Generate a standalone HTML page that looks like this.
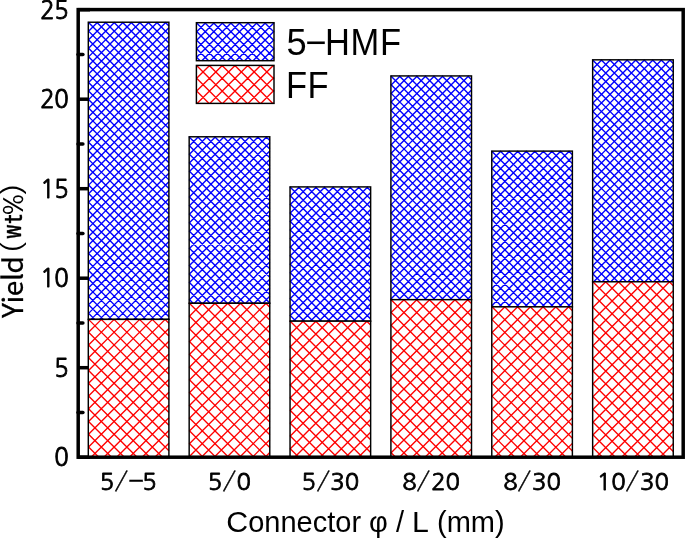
<!DOCTYPE html>
<html><head><meta charset="utf-8"><title>Yield vs Connector</title>
<style>
html,body{margin:0;padding:0;background:#fff;}
body{width:685px;height:538px;overflow:hidden;position:relative;}
svg{display:block;}
.nd{font-family:"NanumGothic","Liberation Sans",sans-serif;font-size:23.9px;letter-spacing:-0.3px;fill:#000;stroke:#000;stroke-width:0.8px;}
.xl{position:absolute;top:464.2px;width:120px;height:34px;line-height:34px;text-align:center;white-space:nowrap;font-family:"NanumGothic","Liberation Sans",sans-serif;font-size:23.9px;letter-spacing:-0.1px;color:#000;-webkit-text-stroke:0.8px #000;}
.xl .s{display:inline-block;width:14.5px;text-align:center;letter-spacing:0;font-family:"IPAGothic","Liberation Sans",sans-serif;font-size:23.8px;transform:scaleX(1.19);position:relative;top:0.3px;left:-0.2px;-webkit-text-stroke:0.3px #000;}
.xl .m{font-size:24.7px;transform:scaleX(1.33);top:-0.1px;left:0;margin-right:-1px;margin-left:0.2px}
.ar{font-family:"Liberation Sans",sans-serif;fill:#000;}
.go{font-family:"IPAGothic","Liberation Sans",sans-serif;fill:#000;stroke:none;}
.gb{stroke:#000;stroke-width:0.35px;}
.no{font-family:"Noto Sans CJK JP","Liberation Sans",sans-serif;fill:#000;stroke:#000;stroke-width:0.3px;letter-spacing:-0.4px;}
.no tspan{letter-spacing:0;}
.wq{font-family:"WenQuanYi Zen Hei","Liberation Sans",sans-serif;fill:#000;stroke:none;}
.lg{position:absolute;left:286.5px;height:44px;line-height:44px;white-space:nowrap;font-family:"Liberation Sans",sans-serif;font-size:36.3px;color:#000;letter-spacing:-1.5px;}
.lg .sq{display:inline-block;transform:scaleX(0.95);transform-origin:0 50%;letter-spacing:0.75px;}
</style></head><body>
<svg width="685" height="538" viewBox="0 0 685 538">
<rect width="685" height="538" fill="#fff"/>

<g stroke="#000" stroke-width="3.5" fill="none">
<line x1="78" y1="457.20" x2="90" y2="457.20"/>
<line x1="78" y1="367.70" x2="90" y2="367.70"/>
<line x1="78" y1="278.20" x2="90" y2="278.20"/>
<line x1="78" y1="188.70" x2="90" y2="188.70"/>
<line x1="78" y1="99.20" x2="90" y2="99.20"/>
<line x1="78" y1="9.70" x2="90" y2="9.70"/>
<line x1="78" y1="412.45" x2="82.9" y2="412.45" stroke-linecap="round"/>
<line x1="78" y1="322.95" x2="82.9" y2="322.95" stroke-linecap="round"/>
<line x1="78" y1="233.45" x2="82.9" y2="233.45" stroke-linecap="round"/>
<line x1="78" y1="143.95" x2="82.9" y2="143.95" stroke-linecap="round"/>
<line x1="78" y1="54.45" x2="82.9" y2="54.45" stroke-linecap="round"/>
</g>
<g transform="translate(88.30,22.23)"><rect width="80.60" height="297.14" fill="#fff"/><path d="M0.00,290.80L6.34,297.14M0.00,282.25L14.89,297.14M0.00,273.70L23.44,297.14M0.00,265.15L31.99,297.14M0.00,256.60L40.54,297.14M0.00,248.05L49.09,297.14M0.00,239.50L57.64,297.14M0.00,230.95L66.19,297.14M0.00,222.40L74.74,297.14M0.00,213.85L80.60,294.45M0.00,205.30L80.60,285.90M0.00,196.75L80.60,277.35M0.00,188.20L80.60,268.80M0.00,179.65L80.60,260.25M0.00,171.10L80.60,251.70M0.00,162.55L80.60,243.15M0.00,154.00L80.60,234.60M0.00,145.45L80.60,226.05M0.00,136.90L80.60,217.50M0.00,128.35L80.60,208.95M0.00,119.80L80.60,200.40M0.00,111.25L80.60,191.85M0.00,102.70L80.60,183.30M0.00,94.15L80.60,174.75M0.00,85.60L80.60,166.20M0.00,77.05L80.60,157.65M0.00,68.50L80.60,149.10M0.00,59.95L80.60,140.55M0.00,51.40L80.60,132.00M0.00,42.85L80.60,123.45M0.00,34.30L80.60,114.90M0.00,25.75L80.60,106.35M0.00,17.20L80.60,97.80M0.00,8.65L80.60,89.25M0.00,0.10L80.60,80.70M8.45,0.00L80.60,72.15M17.00,0.00L80.60,63.60M25.55,0.00L80.60,55.05M34.10,0.00L80.60,46.50M42.65,0.00L80.60,37.95M51.20,0.00L80.60,29.40M59.75,0.00L80.60,20.85M68.30,0.00L80.60,12.30M76.85,0.00L80.60,3.75M0.00,0.70L0.70,0.00M0.00,9.25L9.25,0.00M0.00,17.80L17.80,0.00M0.00,26.35L26.35,0.00M0.00,34.90L34.90,0.00M0.00,43.45L43.45,0.00M0.00,52.00L52.00,0.00M0.00,60.55L60.55,0.00M0.00,69.10L69.10,0.00M0.00,77.65L77.65,0.00M0.00,86.20L80.60,5.60M0.00,94.75L80.60,14.15M0.00,103.30L80.60,22.70M0.00,111.85L80.60,31.25M0.00,120.40L80.60,39.80M0.00,128.95L80.60,48.35M0.00,137.50L80.60,56.90M0.00,146.05L80.60,65.45M0.00,154.60L80.60,74.00M0.00,163.15L80.60,82.55M0.00,171.70L80.60,91.10M0.00,180.25L80.60,99.65M0.00,188.80L80.60,108.20M0.00,197.35L80.60,116.75M0.00,205.90L80.60,125.30M0.00,214.45L80.60,133.85M0.00,223.00L80.60,142.40M0.00,231.55L80.60,150.95M0.00,240.10L80.60,159.50M0.00,248.65L80.60,168.05M0.00,257.20L80.60,176.60M0.00,265.75L80.60,185.15M0.00,274.30L80.60,193.70M0.00,282.85L80.60,202.25M0.00,291.40L80.60,210.80M2.81,297.14L80.60,219.35M11.36,297.14L80.60,227.90M19.91,297.14L80.60,236.45M28.46,297.14L80.60,245.00M37.01,297.14L80.60,253.55M45.56,297.14L80.60,262.10M54.11,297.14L80.60,270.65M62.66,297.14L80.60,279.20M71.21,297.14L80.60,287.75M79.76,297.14L80.60,296.30" stroke="#0000ff" stroke-width="1.4" fill="none"/><rect width="80.60" height="297.14" fill="none" stroke="#000" stroke-width="1.45"/></g>
<g transform="translate(88.30,319.37)"><rect width="80.60" height="137.83" fill="#fff"/><path d="M0.00,127.30L10.53,137.83M0.00,114.55L23.28,137.83M0.00,101.80L36.03,137.83M0.00,89.05L48.78,137.83M0.00,76.30L61.53,137.83M0.00,63.55L74.28,137.83M0.00,50.80L80.60,131.40M0.00,38.05L80.60,118.65M0.00,25.30L80.60,105.90M0.00,12.55L80.60,93.15M0.20,0.00L80.60,80.40M12.95,0.00L80.60,67.65M25.70,0.00L80.60,54.90M38.45,0.00L80.60,42.15M51.20,0.00L80.60,29.40M63.95,0.00L80.60,16.65M76.70,0.00L80.60,3.90M0.00,0.40L0.40,0.00M0.00,13.15L13.15,0.00M0.00,25.90L25.90,0.00M0.00,38.65L38.65,0.00M0.00,51.40L51.40,0.00M0.00,64.15L64.15,0.00M0.00,76.90L76.90,0.00M0.00,89.65L80.60,9.05M0.00,102.40L80.60,21.80M0.00,115.15L80.60,34.55M0.00,127.90L80.60,47.30M2.82,137.83L80.60,60.05M15.57,137.83L80.60,72.80M28.32,137.83L80.60,85.55M41.07,137.83L80.60,98.30M53.82,137.83L80.60,111.05M66.57,137.83L80.60,123.80M79.32,137.83L80.60,136.55" stroke="#ff0000" stroke-width="1.35" fill="none"/><rect width="80.60" height="137.83" fill="none" stroke="#000" stroke-width="1.45"/></g>
<g transform="translate(189.17,136.79)"><rect width="80.60" height="166.47" fill="#fff"/><path d="M0.00,162.55L3.92,166.47M0.00,154.00L12.47,166.47M0.00,145.45L21.02,166.47M0.00,136.90L29.57,166.47M0.00,128.35L38.12,166.47M0.00,119.80L46.67,166.47M0.00,111.25L55.22,166.47M0.00,102.70L63.77,166.47M0.00,94.15L72.32,166.47M0.00,85.60L80.60,166.20M0.00,77.05L80.60,157.65M0.00,68.50L80.60,149.10M0.00,59.95L80.60,140.55M0.00,51.40L80.60,132.00M0.00,42.85L80.60,123.45M0.00,34.30L80.60,114.90M0.00,25.75L80.60,106.35M0.00,17.20L80.60,97.80M0.00,8.65L80.60,89.25M0.00,0.10L80.60,80.70M8.45,0.00L80.60,72.15M17.00,0.00L80.60,63.60M25.55,0.00L80.60,55.05M34.10,0.00L80.60,46.50M42.65,0.00L80.60,37.95M51.20,0.00L80.60,29.40M59.75,0.00L80.60,20.85M68.30,0.00L80.60,12.30M76.85,0.00L80.60,3.75M0.00,0.70L0.70,0.00M0.00,9.25L9.25,0.00M0.00,17.80L17.80,0.00M0.00,26.35L26.35,0.00M0.00,34.90L34.90,0.00M0.00,43.45L43.45,0.00M0.00,52.00L52.00,0.00M0.00,60.55L60.55,0.00M0.00,69.10L69.10,0.00M0.00,77.65L77.65,0.00M0.00,86.20L80.60,5.60M0.00,94.75L80.60,14.15M0.00,103.30L80.60,22.70M0.00,111.85L80.60,31.25M0.00,120.40L80.60,39.80M0.00,128.95L80.60,48.35M0.00,137.50L80.60,56.90M0.00,146.05L80.60,65.45M0.00,154.60L80.60,74.00M0.00,163.15L80.60,82.55M5.23,166.47L80.60,91.10M13.78,166.47L80.60,99.65M22.33,166.47L80.60,108.20M30.88,166.47L80.60,116.75M39.43,166.47L80.60,125.30M47.98,166.47L80.60,133.85M56.53,166.47L80.60,142.40M65.08,166.47L80.60,150.95M73.63,166.47L80.60,159.50" stroke="#0000ff" stroke-width="1.4" fill="none"/><rect width="80.60" height="166.47" fill="none" stroke="#000" stroke-width="1.45"/></g>
<g transform="translate(189.17,303.26)"><rect width="80.60" height="153.94" fill="#fff"/><path d="M0.00,152.80L1.14,153.94M0.00,140.05L13.89,153.94M0.00,127.30L26.64,153.94M0.00,114.55L39.39,153.94M0.00,101.80L52.14,153.94M0.00,89.05L64.89,153.94M0.00,76.30L77.64,153.94M0.00,63.55L80.60,144.15M0.00,50.80L80.60,131.40M0.00,38.05L80.60,118.65M0.00,25.30L80.60,105.90M0.00,12.55L80.60,93.15M0.20,0.00L80.60,80.40M12.95,0.00L80.60,67.65M25.70,0.00L80.60,54.90M38.45,0.00L80.60,42.15M51.20,0.00L80.60,29.40M63.95,0.00L80.60,16.65M76.70,0.00L80.60,3.90M0.00,0.40L0.40,0.00M0.00,13.15L13.15,0.00M0.00,25.90L25.90,0.00M0.00,38.65L38.65,0.00M0.00,51.40L51.40,0.00M0.00,64.15L64.15,0.00M0.00,76.90L76.90,0.00M0.00,89.65L80.60,9.05M0.00,102.40L80.60,21.80M0.00,115.15L80.60,34.55M0.00,127.90L80.60,47.30M0.00,140.65L80.60,60.05M0.00,153.40L80.60,72.80M12.21,153.94L80.60,85.55M24.96,153.94L80.60,98.30M37.71,153.94L80.60,111.05M50.46,153.94L80.60,123.80M63.21,153.94L80.60,136.55M75.96,153.94L80.60,149.30" stroke="#ff0000" stroke-width="1.35" fill="none"/><rect width="80.60" height="153.94" fill="none" stroke="#000" stroke-width="1.45"/></g>
<g transform="translate(290.04,186.91)"><rect width="80.60" height="134.25" fill="#fff"/><path d="M0.00,128.35L5.90,134.25M0.00,119.80L14.45,134.25M0.00,111.25L23.00,134.25M0.00,102.70L31.55,134.25M0.00,94.15L40.10,134.25M0.00,85.60L48.65,134.25M0.00,77.05L57.20,134.25M0.00,68.50L65.75,134.25M0.00,59.95L74.30,134.25M0.00,51.40L80.60,132.00M0.00,42.85L80.60,123.45M0.00,34.30L80.60,114.90M0.00,25.75L80.60,106.35M0.00,17.20L80.60,97.80M0.00,8.65L80.60,89.25M0.00,0.10L80.60,80.70M8.45,0.00L80.60,72.15M17.00,0.00L80.60,63.60M25.55,0.00L80.60,55.05M34.10,0.00L80.60,46.50M42.65,0.00L80.60,37.95M51.20,0.00L80.60,29.40M59.75,0.00L80.60,20.85M68.30,0.00L80.60,12.30M76.85,0.00L80.60,3.75M0.00,0.70L0.70,0.00M0.00,9.25L9.25,0.00M0.00,17.80L17.80,0.00M0.00,26.35L26.35,0.00M0.00,34.90L34.90,0.00M0.00,43.45L43.45,0.00M0.00,52.00L52.00,0.00M0.00,60.55L60.55,0.00M0.00,69.10L69.10,0.00M0.00,77.65L77.65,0.00M0.00,86.20L80.60,5.60M0.00,94.75L80.60,14.15M0.00,103.30L80.60,22.70M0.00,111.85L80.60,31.25M0.00,120.40L80.60,39.80M0.00,128.95L80.60,48.35M3.25,134.25L80.60,56.90M11.80,134.25L80.60,65.45M20.35,134.25L80.60,74.00M28.90,134.25L80.60,82.55M37.45,134.25L80.60,91.10M46.00,134.25L80.60,99.65M54.55,134.25L80.60,108.20M63.10,134.25L80.60,116.75M71.65,134.25L80.60,125.30M80.20,134.25L80.60,133.85" stroke="#0000ff" stroke-width="1.4" fill="none"/><rect width="80.60" height="134.25" fill="none" stroke="#000" stroke-width="1.45"/></g>
<g transform="translate(290.04,321.16)"><rect width="80.60" height="136.04" fill="#fff"/><path d="M0.00,127.30L8.74,136.04M0.00,114.55L21.49,136.04M0.00,101.80L34.24,136.04M0.00,89.05L46.99,136.04M0.00,76.30L59.74,136.04M0.00,63.55L72.49,136.04M0.00,50.80L80.60,131.40M0.00,38.05L80.60,118.65M0.00,25.30L80.60,105.90M0.00,12.55L80.60,93.15M0.20,0.00L80.60,80.40M12.95,0.00L80.60,67.65M25.70,0.00L80.60,54.90M38.45,0.00L80.60,42.15M51.20,0.00L80.60,29.40M63.95,0.00L80.60,16.65M76.70,0.00L80.60,3.90M0.00,0.40L0.40,0.00M0.00,13.15L13.15,0.00M0.00,25.90L25.90,0.00M0.00,38.65L38.65,0.00M0.00,51.40L51.40,0.00M0.00,64.15L64.15,0.00M0.00,76.90L76.90,0.00M0.00,89.65L80.60,9.05M0.00,102.40L80.60,21.80M0.00,115.15L80.60,34.55M0.00,127.90L80.60,47.30M4.61,136.04L80.60,60.05M17.36,136.04L80.60,72.80M30.11,136.04L80.60,85.55M42.86,136.04L80.60,98.30M55.61,136.04L80.60,111.05M68.36,136.04L80.60,123.80" stroke="#ff0000" stroke-width="1.35" fill="none"/><rect width="80.60" height="136.04" fill="none" stroke="#000" stroke-width="1.45"/></g>
<g transform="translate(390.91,75.93)"><rect width="80.60" height="223.75" fill="#fff"/><path d="M0.00,222.40L1.35,223.75M0.00,213.85L9.90,223.75M0.00,205.30L18.45,223.75M0.00,196.75L27.00,223.75M0.00,188.20L35.55,223.75M0.00,179.65L44.10,223.75M0.00,171.10L52.65,223.75M0.00,162.55L61.20,223.75M0.00,154.00L69.75,223.75M0.00,145.45L78.30,223.75M0.00,136.90L80.60,217.50M0.00,128.35L80.60,208.95M0.00,119.80L80.60,200.40M0.00,111.25L80.60,191.85M0.00,102.70L80.60,183.30M0.00,94.15L80.60,174.75M0.00,85.60L80.60,166.20M0.00,77.05L80.60,157.65M0.00,68.50L80.60,149.10M0.00,59.95L80.60,140.55M0.00,51.40L80.60,132.00M0.00,42.85L80.60,123.45M0.00,34.30L80.60,114.90M0.00,25.75L80.60,106.35M0.00,17.20L80.60,97.80M0.00,8.65L80.60,89.25M0.00,0.10L80.60,80.70M8.45,0.00L80.60,72.15M17.00,0.00L80.60,63.60M25.55,0.00L80.60,55.05M34.10,0.00L80.60,46.50M42.65,0.00L80.60,37.95M51.20,0.00L80.60,29.40M59.75,0.00L80.60,20.85M68.30,0.00L80.60,12.30M76.85,0.00L80.60,3.75M0.00,0.70L0.70,0.00M0.00,9.25L9.25,0.00M0.00,17.80L17.80,0.00M0.00,26.35L26.35,0.00M0.00,34.90L34.90,0.00M0.00,43.45L43.45,0.00M0.00,52.00L52.00,0.00M0.00,60.55L60.55,0.00M0.00,69.10L69.10,0.00M0.00,77.65L77.65,0.00M0.00,86.20L80.60,5.60M0.00,94.75L80.60,14.15M0.00,103.30L80.60,22.70M0.00,111.85L80.60,31.25M0.00,120.40L80.60,39.80M0.00,128.95L80.60,48.35M0.00,137.50L80.60,56.90M0.00,146.05L80.60,65.45M0.00,154.60L80.60,74.00M0.00,163.15L80.60,82.55M0.00,171.70L80.60,91.10M0.00,180.25L80.60,99.65M0.00,188.80L80.60,108.20M0.00,197.35L80.60,116.75M0.00,205.90L80.60,125.30M0.00,214.45L80.60,133.85M0.00,223.00L80.60,142.40M7.80,223.75L80.60,150.95M16.35,223.75L80.60,159.50M24.90,223.75L80.60,168.05M33.45,223.75L80.60,176.60M42.00,223.75L80.60,185.15M50.55,223.75L80.60,193.70M59.10,223.75L80.60,202.25M67.65,223.75L80.60,210.80M76.20,223.75L80.60,219.35" stroke="#0000ff" stroke-width="1.4" fill="none"/><rect width="80.60" height="223.75" fill="none" stroke="#000" stroke-width="1.45"/></g>
<g transform="translate(390.91,299.68)"><rect width="80.60" height="157.52" fill="#fff"/><path d="M0.00,152.80L4.72,157.52M0.00,140.05L17.47,157.52M0.00,127.30L30.22,157.52M0.00,114.55L42.97,157.52M0.00,101.80L55.72,157.52M0.00,89.05L68.47,157.52M0.00,76.30L80.60,156.90M0.00,63.55L80.60,144.15M0.00,50.80L80.60,131.40M0.00,38.05L80.60,118.65M0.00,25.30L80.60,105.90M0.00,12.55L80.60,93.15M0.20,0.00L80.60,80.40M12.95,0.00L80.60,67.65M25.70,0.00L80.60,54.90M38.45,0.00L80.60,42.15M51.20,0.00L80.60,29.40M63.95,0.00L80.60,16.65M76.70,0.00L80.60,3.90M0.00,0.40L0.40,0.00M0.00,13.15L13.15,0.00M0.00,25.90L25.90,0.00M0.00,38.65L38.65,0.00M0.00,51.40L51.40,0.00M0.00,64.15L64.15,0.00M0.00,76.90L76.90,0.00M0.00,89.65L80.60,9.05M0.00,102.40L80.60,21.80M0.00,115.15L80.60,34.55M0.00,127.90L80.60,47.30M0.00,140.65L80.60,60.05M0.00,153.40L80.60,72.80M8.63,157.52L80.60,85.55M21.38,157.52L80.60,98.30M34.13,157.52L80.60,111.05M46.88,157.52L80.60,123.80M59.63,157.52L80.60,136.55M72.38,157.52L80.60,149.30" stroke="#ff0000" stroke-width="1.35" fill="none"/><rect width="80.60" height="157.52" fill="none" stroke="#000" stroke-width="1.45"/></g>
<g transform="translate(491.78,151.11)"><rect width="80.60" height="155.73" fill="#fff"/><path d="M0.00,154.00L1.73,155.73M0.00,145.45L10.28,155.73M0.00,136.90L18.83,155.73M0.00,128.35L27.38,155.73M0.00,119.80L35.93,155.73M0.00,111.25L44.48,155.73M0.00,102.70L53.03,155.73M0.00,94.15L61.58,155.73M0.00,85.60L70.13,155.73M0.00,77.05L78.68,155.73M0.00,68.50L80.60,149.10M0.00,59.95L80.60,140.55M0.00,51.40L80.60,132.00M0.00,42.85L80.60,123.45M0.00,34.30L80.60,114.90M0.00,25.75L80.60,106.35M0.00,17.20L80.60,97.80M0.00,8.65L80.60,89.25M0.00,0.10L80.60,80.70M8.45,0.00L80.60,72.15M17.00,0.00L80.60,63.60M25.55,0.00L80.60,55.05M34.10,0.00L80.60,46.50M42.65,0.00L80.60,37.95M51.20,0.00L80.60,29.40M59.75,0.00L80.60,20.85M68.30,0.00L80.60,12.30M76.85,0.00L80.60,3.75M0.00,0.70L0.70,0.00M0.00,9.25L9.25,0.00M0.00,17.80L17.80,0.00M0.00,26.35L26.35,0.00M0.00,34.90L34.90,0.00M0.00,43.45L43.45,0.00M0.00,52.00L52.00,0.00M0.00,60.55L60.55,0.00M0.00,69.10L69.10,0.00M0.00,77.65L77.65,0.00M0.00,86.20L80.60,5.60M0.00,94.75L80.60,14.15M0.00,103.30L80.60,22.70M0.00,111.85L80.60,31.25M0.00,120.40L80.60,39.80M0.00,128.95L80.60,48.35M0.00,137.50L80.60,56.90M0.00,146.05L80.60,65.45M0.00,154.60L80.60,74.00M7.42,155.73L80.60,82.55M15.97,155.73L80.60,91.10M24.52,155.73L80.60,99.65M33.07,155.73L80.60,108.20M41.62,155.73L80.60,116.75M50.17,155.73L80.60,125.30M58.72,155.73L80.60,133.85M67.27,155.73L80.60,142.40M75.82,155.73L80.60,150.95" stroke="#0000ff" stroke-width="1.4" fill="none"/><rect width="80.60" height="155.73" fill="none" stroke="#000" stroke-width="1.45"/></g>
<g transform="translate(491.78,306.84)"><rect width="80.60" height="150.36" fill="#fff"/><path d="M0.00,140.05L10.31,150.36M0.00,127.30L23.06,150.36M0.00,114.55L35.81,150.36M0.00,101.80L48.56,150.36M0.00,89.05L61.31,150.36M0.00,76.30L74.06,150.36M0.00,63.55L80.60,144.15M0.00,50.80L80.60,131.40M0.00,38.05L80.60,118.65M0.00,25.30L80.60,105.90M0.00,12.55L80.60,93.15M0.20,0.00L80.60,80.40M12.95,0.00L80.60,67.65M25.70,0.00L80.60,54.90M38.45,0.00L80.60,42.15M51.20,0.00L80.60,29.40M63.95,0.00L80.60,16.65M76.70,0.00L80.60,3.90M0.00,0.40L0.40,0.00M0.00,13.15L13.15,0.00M0.00,25.90L25.90,0.00M0.00,38.65L38.65,0.00M0.00,51.40L51.40,0.00M0.00,64.15L64.15,0.00M0.00,76.90L76.90,0.00M0.00,89.65L80.60,9.05M0.00,102.40L80.60,21.80M0.00,115.15L80.60,34.55M0.00,127.90L80.60,47.30M0.00,140.65L80.60,60.05M3.04,150.36L80.60,72.80M15.79,150.36L80.60,85.55M28.54,150.36L80.60,98.30M41.29,150.36L80.60,111.05M54.04,150.36L80.60,123.80M66.79,150.36L80.60,136.55M79.54,150.36L80.60,149.30" stroke="#ff0000" stroke-width="1.35" fill="none"/><rect width="80.60" height="150.36" fill="none" stroke="#000" stroke-width="1.45"/></g>
<g transform="translate(592.65,59.82)"><rect width="80.60" height="221.96" fill="#fff"/><path d="M0.00,213.85L8.11,221.96M0.00,205.30L16.66,221.96M0.00,196.75L25.21,221.96M0.00,188.20L33.76,221.96M0.00,179.65L42.31,221.96M0.00,171.10L50.86,221.96M0.00,162.55L59.41,221.96M0.00,154.00L67.96,221.96M0.00,145.45L76.51,221.96M0.00,136.90L80.60,217.50M0.00,128.35L80.60,208.95M0.00,119.80L80.60,200.40M0.00,111.25L80.60,191.85M0.00,102.70L80.60,183.30M0.00,94.15L80.60,174.75M0.00,85.60L80.60,166.20M0.00,77.05L80.60,157.65M0.00,68.50L80.60,149.10M0.00,59.95L80.60,140.55M0.00,51.40L80.60,132.00M0.00,42.85L80.60,123.45M0.00,34.30L80.60,114.90M0.00,25.75L80.60,106.35M0.00,17.20L80.60,97.80M0.00,8.65L80.60,89.25M0.00,0.10L80.60,80.70M8.45,0.00L80.60,72.15M17.00,0.00L80.60,63.60M25.55,0.00L80.60,55.05M34.10,0.00L80.60,46.50M42.65,0.00L80.60,37.95M51.20,0.00L80.60,29.40M59.75,0.00L80.60,20.85M68.30,0.00L80.60,12.30M76.85,0.00L80.60,3.75M0.00,0.70L0.70,0.00M0.00,9.25L9.25,0.00M0.00,17.80L17.80,0.00M0.00,26.35L26.35,0.00M0.00,34.90L34.90,0.00M0.00,43.45L43.45,0.00M0.00,52.00L52.00,0.00M0.00,60.55L60.55,0.00M0.00,69.10L69.10,0.00M0.00,77.65L77.65,0.00M0.00,86.20L80.60,5.60M0.00,94.75L80.60,14.15M0.00,103.30L80.60,22.70M0.00,111.85L80.60,31.25M0.00,120.40L80.60,39.80M0.00,128.95L80.60,48.35M0.00,137.50L80.60,56.90M0.00,146.05L80.60,65.45M0.00,154.60L80.60,74.00M0.00,163.15L80.60,82.55M0.00,171.70L80.60,91.10M0.00,180.25L80.60,99.65M0.00,188.80L80.60,108.20M0.00,197.35L80.60,116.75M0.00,205.90L80.60,125.30M0.00,214.45L80.60,133.85M1.04,221.96L80.60,142.40M9.59,221.96L80.60,150.95M18.14,221.96L80.60,159.50M26.69,221.96L80.60,168.05M35.24,221.96L80.60,176.60M43.79,221.96L80.60,185.15M52.34,221.96L80.60,193.70M60.89,221.96L80.60,202.25M69.44,221.96L80.60,210.80M77.99,221.96L80.60,219.35" stroke="#0000ff" stroke-width="1.4" fill="none"/><rect width="80.60" height="221.96" fill="none" stroke="#000" stroke-width="1.45"/></g>
<g transform="translate(592.65,281.78)"><rect width="80.60" height="175.42" fill="#fff"/><path d="M0.00,165.55L9.87,175.42M0.00,152.80L22.62,175.42M0.00,140.05L35.37,175.42M0.00,127.30L48.12,175.42M0.00,114.55L60.87,175.42M0.00,101.80L73.62,175.42M0.00,89.05L80.60,169.65M0.00,76.30L80.60,156.90M0.00,63.55L80.60,144.15M0.00,50.80L80.60,131.40M0.00,38.05L80.60,118.65M0.00,25.30L80.60,105.90M0.00,12.55L80.60,93.15M0.20,0.00L80.60,80.40M12.95,0.00L80.60,67.65M25.70,0.00L80.60,54.90M38.45,0.00L80.60,42.15M51.20,0.00L80.60,29.40M63.95,0.00L80.60,16.65M76.70,0.00L80.60,3.90M0.00,0.40L0.40,0.00M0.00,13.15L13.15,0.00M0.00,25.90L25.90,0.00M0.00,38.65L38.65,0.00M0.00,51.40L51.40,0.00M0.00,64.15L64.15,0.00M0.00,76.90L76.90,0.00M0.00,89.65L80.60,9.05M0.00,102.40L80.60,21.80M0.00,115.15L80.60,34.55M0.00,127.90L80.60,47.30M0.00,140.65L80.60,60.05M0.00,153.40L80.60,72.80M0.00,166.15L80.60,85.55M3.48,175.42L80.60,98.30M16.23,175.42L80.60,111.05M28.98,175.42L80.60,123.80M41.73,175.42L80.60,136.55M54.48,175.42L80.60,149.30M67.23,175.42L80.60,162.05M79.98,175.42L80.60,174.80" stroke="#ff0000" stroke-width="1.35" fill="none"/><rect width="80.60" height="175.42" fill="none" stroke="#000" stroke-width="1.45"/></g>
<rect x="78.2" y="9.6" width="605" height="447.6" fill="none" stroke="#000" stroke-width="3.5"/>
<g transform="translate(196.40,22.70)"><rect width="77.60" height="38.00" fill="#fff"/><path d="M0.00,34.30L3.70,38.00M0.00,25.75L12.25,38.00M0.00,17.20L20.80,38.00M0.00,8.65L29.35,38.00M0.00,0.10L37.90,38.00M8.45,0.00L46.45,38.00M17.00,0.00L55.00,38.00M25.55,0.00L63.55,38.00M34.10,0.00L72.10,38.00M42.65,0.00L77.60,34.95M51.20,0.00L77.60,26.40M59.75,0.00L77.60,17.85M68.30,0.00L77.60,9.30M76.85,0.00L77.60,0.75M0.00,0.70L0.70,0.00M0.00,9.25L9.25,0.00M0.00,17.80L17.80,0.00M0.00,26.35L26.35,0.00M0.00,34.90L34.90,0.00M5.45,38.00L43.45,0.00M14.00,38.00L52.00,0.00M22.55,38.00L60.55,0.00M31.10,38.00L69.10,0.00M39.65,38.00L77.60,0.05M48.20,38.00L77.60,8.60M56.75,38.00L77.60,17.15M65.30,38.00L77.60,25.70M73.85,38.00L77.60,34.25" stroke="#0000ff" stroke-width="1.4" fill="none"/><rect width="77.60" height="38.00" fill="none" stroke="#000" stroke-width="1.45"/></g>
<g transform="translate(196.40,65.40)"><rect width="77.60" height="38.00" fill="#fff"/><path d="M0.00,25.30L12.70,38.00M0.00,12.55L25.45,38.00M0.20,0.00L38.20,38.00M12.95,0.00L50.95,38.00M25.70,0.00L63.70,38.00M38.45,0.00L76.45,38.00M51.20,0.00L77.60,26.40M63.95,0.00L77.60,13.65M76.70,0.00L77.60,0.90M0.00,0.40L0.40,0.00M0.00,13.15L13.15,0.00M0.00,25.90L25.90,0.00M0.65,38.00L38.65,0.00M13.40,38.00L51.40,0.00M26.15,38.00L64.15,0.00M38.90,38.00L76.90,0.00M51.65,38.00L77.60,12.05M64.40,38.00L77.60,24.80M77.15,38.00L77.60,37.55" stroke="#ff0000" stroke-width="1.35" fill="none"/><rect width="77.60" height="38.00" fill="none" stroke="#000" stroke-width="1.45"/></g>
<text class="nd" text-anchor="end" transform="translate(68.5,466.30) scale(1,1.025)">0</text>
<text class="nd" text-anchor="end" transform="translate(68.5,376.80) scale(1,1.025)">5</text>
<text class="nd" text-anchor="end" transform="translate(68.5,287.30) scale(1,1.025)">10</text>
<text class="nd" text-anchor="end" transform="translate(68.5,197.80) scale(1,1.025)">15</text>
<text class="nd" text-anchor="end" transform="translate(68.5,108.30) scale(1,1.025)">20</text>
<text class="nd" text-anchor="end" transform="translate(68.5,18.80) scale(1,1.025)">25</text>
<text class="ar" font-size="29" transform="translate(226.3,531.5) scale(1,1)"><tspan font-size="30.3">C</tspan>onnector φ / <tspan font-size="30.3">L</tspan> (mm)</text>
<g transform="translate(22.8,319) rotate(-90)"><text class="no" font-size="28" x="1" y="0">Yield <tspan class="go" font-size="29" x="64.5" y="1.1">(</tspan><tspan class="go gb" font-size="30.5" x="79.7" y="0">w</tspan><tspan class="go gb" font-size="27.5" x="93.3" y="0">t</tspan><tspan class="wq" font-size="29" x="104.3" y="0">%</tspan><tspan class="go" font-size="29" x="122.6" y="1.1">)</tspan></text></g>
</svg>
<div class="xl" style="left:68.15px">5<span class="s">/</span><span class="s m">−</span>5</div>
<div class="xl" style="left:169.37px">5<span class="s">/</span>0</div>
<div class="xl" style="left:270.24px">5<span class="s">/</span>30</div>
<div class="xl" style="left:371.11px">8<span class="s">/</span>20</div>
<div class="xl" style="left:471.98px">8<span class="s">/</span>30</div>
<div class="xl" style="left:572.85px">10<span class="s">/</span>30</div>
<div class="lg" style="top:21px">5−<span class="sq">HMF</span></div>
<div class="lg" style="top:64px;left:286px"><span class="sq" style="letter-spacing:0.35px">FF</span></div>
</body></html>
